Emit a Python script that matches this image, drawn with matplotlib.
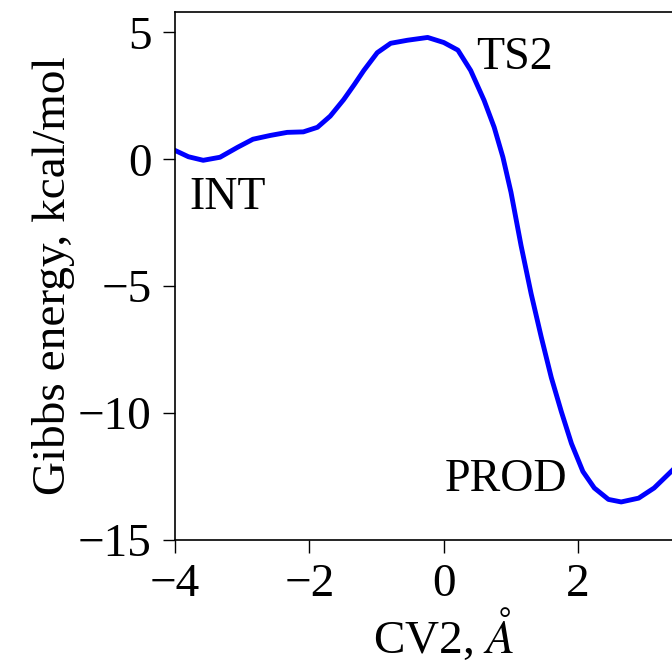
import matplotlib
matplotlib.use('Agg')
import matplotlib.pyplot as plt

plt.rcParams['font.family'] = ['Liberation Serif', 'DejaVu Serif']
plt.rcParams['mathtext.fontset'] = 'stix'

# free energy profile along CV2
cv2 = [-4.0, -3.8, -3.58, -3.33, -3.07, -2.84, -2.58, -2.33, -2.09, -1.88,
       -1.69, -1.49, -1.33, -1.19, -0.99, -0.79, -0.54, -0.24, 0.0, 0.21,
       0.40, 0.6, 0.75, 0.88, 1.0, 1.15, 1.30, 1.45, 1.60, 1.75,
       1.90, 2.07, 2.24, 2.45, 2.64, 2.9, 3.13, 3.36, 3.5]
energy = [0.35, 0.1, -0.04, 0.08, 0.47, 0.79, 0.94, 1.06, 1.08, 1.26,
          1.7, 2.35, 2.95, 3.5, 4.2, 4.57, 4.69, 4.8, 4.6, 4.3,
          3.5, 2.32, 1.26, 0.08, -1.3, -3.4, -5.3, -7.0, -8.6, -9.95,
          -11.2, -12.3, -12.95, -13.4, -13.5, -13.35, -12.95, -12.36, -12.0]

labels = ['INT', 'TS2', 'PROD']
label_x = [-3.78, 0.48, 0.02]
label_y = [-1.5, 4.0, -12.64]

fig = plt.figure(figsize=(6.72, 6.70), dpi=100)
ax = fig.add_axes([0.2604, 0.194, 0.80, 0.788])

ax.plot(cv2, energy, color='blue', lw=3.5, solid_joinstyle='round')

for t, x, y in zip(labels, label_x, label_y):
    ax.text(x, y, t, fontsize=33, ha='left', va='center')

ax.set_xlim(-4, 4)
ax.set_ylim(-15, 5.8)
ax.set_xticks([-4, -2, 0, 2])
ax.set_yticks([-15, -10, -5, 0, 5])
ax.tick_params(labelsize=34, length=9, width=1.0, pad=8, direction='out')
for s in ax.spines.values():
    s.set_linewidth(1.2)

ax.set_xlabel(r'CV2, $\AA$', fontsize=34, labelpad=0)
ax.set_ylabel('Gibbs energy, kcal/mol', fontsize=34, labelpad=2)

fig.savefig('out.png', dpi=100)
